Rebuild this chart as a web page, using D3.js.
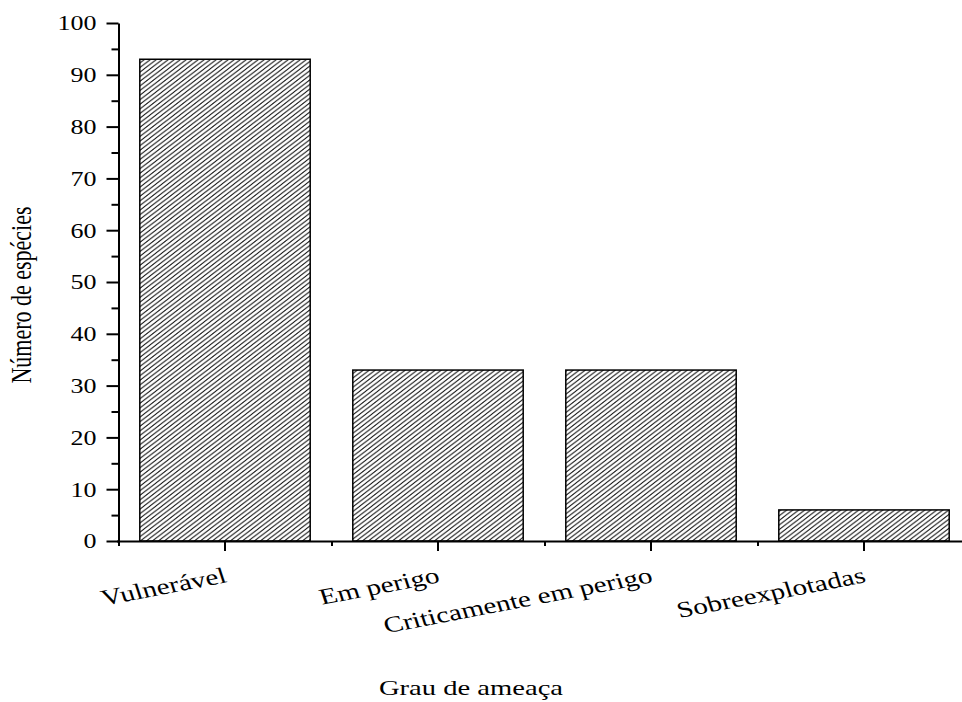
<!DOCTYPE html>
<html>
<head>
<meta charset="utf-8">
<script src="https://cdn.jsdelivr.net/npm/d3@7"></script>
<style>
  html, body { margin: 0; padding: 0; background: #fff; }
  svg { display: block; }
  text { font-family: "Liberation Serif", "Times New Roman", serif; fill: #000; }
</style>
</head>
<body>
<svg id="chart" width="962" height="702"></svg>
<script>
// Threatened species by threat category
const categories = ["Vulnerável", "Em perigo", "Criticamente em perigo", "Sobreexplotadas"];
const counts = [93, 33, 33, 6];
const yMajorTicks = [0, 10, 20, 30, 40, 50, 60, 70, 80, 90, 100];
const yMinorTicks = [5, 15, 25, 35, 45, 55, 65, 75, 85, 95];
const xTitle = "Grau de ameaça";
const yTitle = "Número de espécies";

// Text is drawn with a slight horizontal stretch, giving the wide serif look
const SX = 1.3;

const svg = d3.select("#chart");

const plot = { left: 118.5, right: 970.5, top: 23, bottom: 541 };

const x = d3.scaleBand()
  .domain(categories)
  .range([plot.left, plot.right])
  .paddingInner(0.2)
  .paddingOuter(0.1);

const y = d3.scaleLinear()
  .domain([0, 100])
  .range([plot.bottom, plot.top]);

// Diagonal hatch used to fill the bars
const defs = svg.append("defs");
const pw = 6, ph = 4.6;
defs.append("pattern")
  .attr("id", "hatch")
  .attr("patternUnits", "userSpaceOnUse")
  .attr("width", pw)
  .attr("height", ph)
  .append("path")
  .attr("d", `M0,${ph} L${pw},0 M${-pw/2},${ph/2} L${pw/2},${-ph/2} M${pw/2},${ph*1.5} L${pw*1.5},${ph/2}`)
  .attr("stroke", "#111")
  .attr("stroke-width", 1);

// Bars
svg.append("g")
  .selectAll("rect")
  .data(categories)
  .join("rect")
  .attr("x", d => x(d))
  .attr("y", (d, i) => y(counts[i]))
  .attr("width", x.bandwidth())
  .attr("height", (d, i) => y(0) - y(counts[i]))
  .attr("fill", "url(#hatch)")
  .attr("stroke", "#000")
  .attr("stroke-width", 1.5);

// Y axis: major ticks with labels, minor ticks without
const yAxisG = svg.append("g")
  .attr("transform", `translate(${plot.left},0)`)
  .call(d3.axisLeft(y).tickValues(yMajorTicks).tickSize(12).tickSizeOuter(0));
yAxisG.selectAll(".tick text")
  .attr("x", -22 / SX)
  .attr("dy", null)
  .attr("dominant-baseline", "central")
  .attr("transform", `scale(${SX},1)`)
  .style("font-size", "20px")
  .style("font-family", "'Liberation Serif', serif");

svg.append("g")
  .attr("transform", `translate(${plot.left},0)`)
  .call(d3.axisLeft(y).tickValues(yMinorTicks).tickSize(7).tickSizeOuter(0).tickFormat(""))
  .select(".domain").remove();

// X axis: major ticks at category centres, minor ticks at band edges
const xAxisG = svg.append("g")
  .attr("transform", `translate(0,${plot.bottom})`)
  .call(d3.axisBottom(x).tickSize(10).tickSizeOuter(0));
xAxisG.selectAll(".tick text").remove();
xAxisG.select(".domain").attr("d", `M${plot.left - 1.5},0.5H${plot.right}`);

const xEdge = d3.scaleLinear().domain([0, categories.length]).range([plot.left, plot.right]);
svg.append("g")
  .attr("transform", `translate(0,${plot.bottom})`)
  .call(d3.axisBottom(xEdge).tickValues(d3.range(categories.length + 1)).tickSize(5).tickSizeOuter(0).tickFormat(""))
  .select(".domain").remove();

svg.selectAll(".domain, .tick line")
  .attr("stroke", "#000")
  .attr("stroke-width", 2);

// Rotated category labels, right end at each tick
svg.append("g")
  .selectAll("g")
  .data(categories)
  .join("g")
  .attr("transform", d => `translate(${x(d) + x.bandwidth() / 2 + 3},582) scale(${SX},1) rotate(-14)`)
  .append("text")
  .attr("text-anchor", "end")
  .style("font-size", "22.5px")
  .style("font-family", "'Liberation Serif', serif")
  .text(d => d);

// Axis titles
svg.append("g")
  .attr("transform", `translate(471,695) scale(${SX},1)`)
  .append("text")
  .attr("text-anchor", "middle")
  .style("font-size", "22px")
  .style("font-family", "'Liberation Serif', serif")
  .text(xTitle);

svg.append("g")
  .attr("transform", `translate(31,295) scale(${SX},1) rotate(-90)`)
  .append("text")
  .attr("text-anchor", "middle")
  .style("font-size", "22px")
  .style("font-family", "'Liberation Serif', serif")
  .text(yTitle);
</script>
</body>
</html>
